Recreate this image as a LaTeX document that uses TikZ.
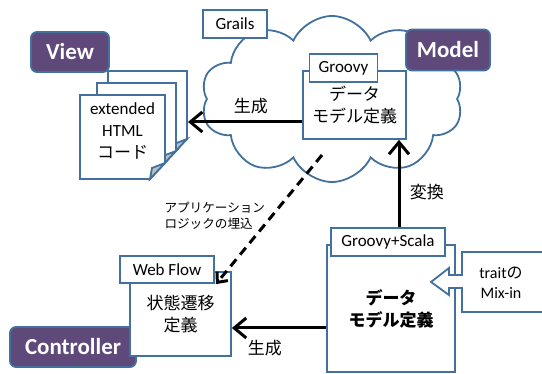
\documentclass[tikz,border=0pt]{standalone}
\usepackage{fontspec}
\setmainfont{Carlito}
\newfontfamily\jp{Noto Sans CJK JP}
\usetikzlibrary{shapes.symbols, arrows.meta}
\definecolor{boxblue}{HTML}{41719C}
\definecolor{layer}{HTML}{5F497A}
\definecolor{fold}{HTML}{BFBFBF}

\begin{document}
\begin{tikzpicture}[x=1pt, y=-1pt,
    box/.style={draw=boxblue, line width=1.8pt, fill=white, inner sep=0pt, align=center, font=\fontsize{17}{22}\selectfont},
    tier/.style={draw=boxblue, line width=1.8pt, fill=layer, rounded corners=6pt, text=white, inner sep=0pt, font=\fontsize{23}{26}\selectfont\bfseries},
    conn/.style={line width=3pt, -{Straight Barb[length=12pt, width=20pt]}},
    lbl/.style={font=\fontsize{17}{22}\selectfont\jp}]
    \useasboundingbox (0,0) rectangle (542,374);
    % cloud
    \node[cloud, draw=boxblue, fill=white, line width=1.8pt, cloud puffs=10, cloud puff arc=130, cloud ignores aspect, minimum width=262pt, minimum height=166pt] (cloud) at (332,99) {};
    \node[box, minimum width=64pt, minimum height=28pt] (grails) at (235,24) {Grails};
    \node[tier, minimum width=78pt, minimum height=40pt] (view) at (70,52) {View};
    \node[tier, minimum width=84pt, minimum height=41pt] (model) at (448,50) {Model};
    \node[tier, minimum width=126pt, minimum height=40pt] (controller) at (73,347) {Controller};
    % pages
    \foreach \l/\t/\r/\b in {108/71/187/155, 97/83/176/167, 80/95/165/179} {
        \draw[boxblue, line width=1.8pt, fill=white] (\l,\t) -- (\r,\t) -- (\r,\b-16) -- (\r-15,\b) -- (\l,\b) -- cycle;
        \draw[boxblue, line width=1.8pt, fill=fold] (\r,\b-16) -- (\r-15,\b) -- (\r-13,\b-11) -- cycle;
    }
    \node[box, draw=none, fill=none] (html) at (122.5,131) {extended\\HTML\\{\jp コード}};
    \coordinate (stack) at (188,122);
    % groovy
    \node[box, minimum width=103pt, minimum height=68pt, font=\fontsize{17}{22}\selectfont\jp] (gdata) at (354.5,105) {データ\\モデル定義};
    \node[box, minimum width=68pt, minimum height=28pt] (groovytag) at (343.5,68) {Groovy};
    % web flow
    \node[box, minimum width=101pt, minimum height=84pt, font=\fontsize{17}{22}\selectfont\jp] (flow) at (180.5,314) {状態遷移\\定義};
    \node[box, minimum width=94pt, minimum height=27pt] (flowtag) at (167,269.5) {Web Flow};
    % groovy+scala
    \node[box, minimum width=128pt, minimum height=127pt, font=\fontsize{17}{22}\selectfont\jp\bfseries] (mixdata) at (391,308.5) {データ\\モデル定義};
    \node[box, minimum width=114pt, minimum height=28pt] (mixtag) at (388,242) {Groovy+Scala};
    % trait
    \draw[boxblue, line width=1.8pt, fill=white] (543,252) -- (462,252) -- (462,275) -- (449,275) -- (449,268) -- (431,282) -- (449,295) -- (449,288) -- (462,288) -- (462,312) -- (543,312);
    \node[box, draw=none, fill=none, font=\fontsize{16}{20}\selectfont] (trait) at (501,283) {trait{\jp の}\\Mix-in};
    % arrows
    \draw[conn] (gdata.west |- stack) -- (stack) node[lbl, pos=0.45, above=3pt] {生成};
    \draw[conn] ([xshift=11pt]mixtag.north) -- ([xshift=11pt]mixtag.north |- gdata.south) node[lbl, pos=0.4, right=6pt] {変換};
    \coordinate (logic) at (322,155);
    \draw[line width=3pt, dash pattern=on 9pt off 6pt, -{Straight Barb[length=8pt, width=14pt]}] (logic) -- ([xshift=-16pt, yshift=-13pt]flow.north east);
    \node[anchor=west, align=left, font=\fontsize{12.6}{16}\selectfont\jp] (logiclbl) at (161,216) {アプリケーション\\ロジックの埋込};
    \coordinate (gen) at (0,328);
    \draw[conn] (mixdata.west |- gen) -- (flow.east |- gen) node[lbl, pos=0.65, below=7pt] {生成};
\end{tikzpicture}
\end{document}
